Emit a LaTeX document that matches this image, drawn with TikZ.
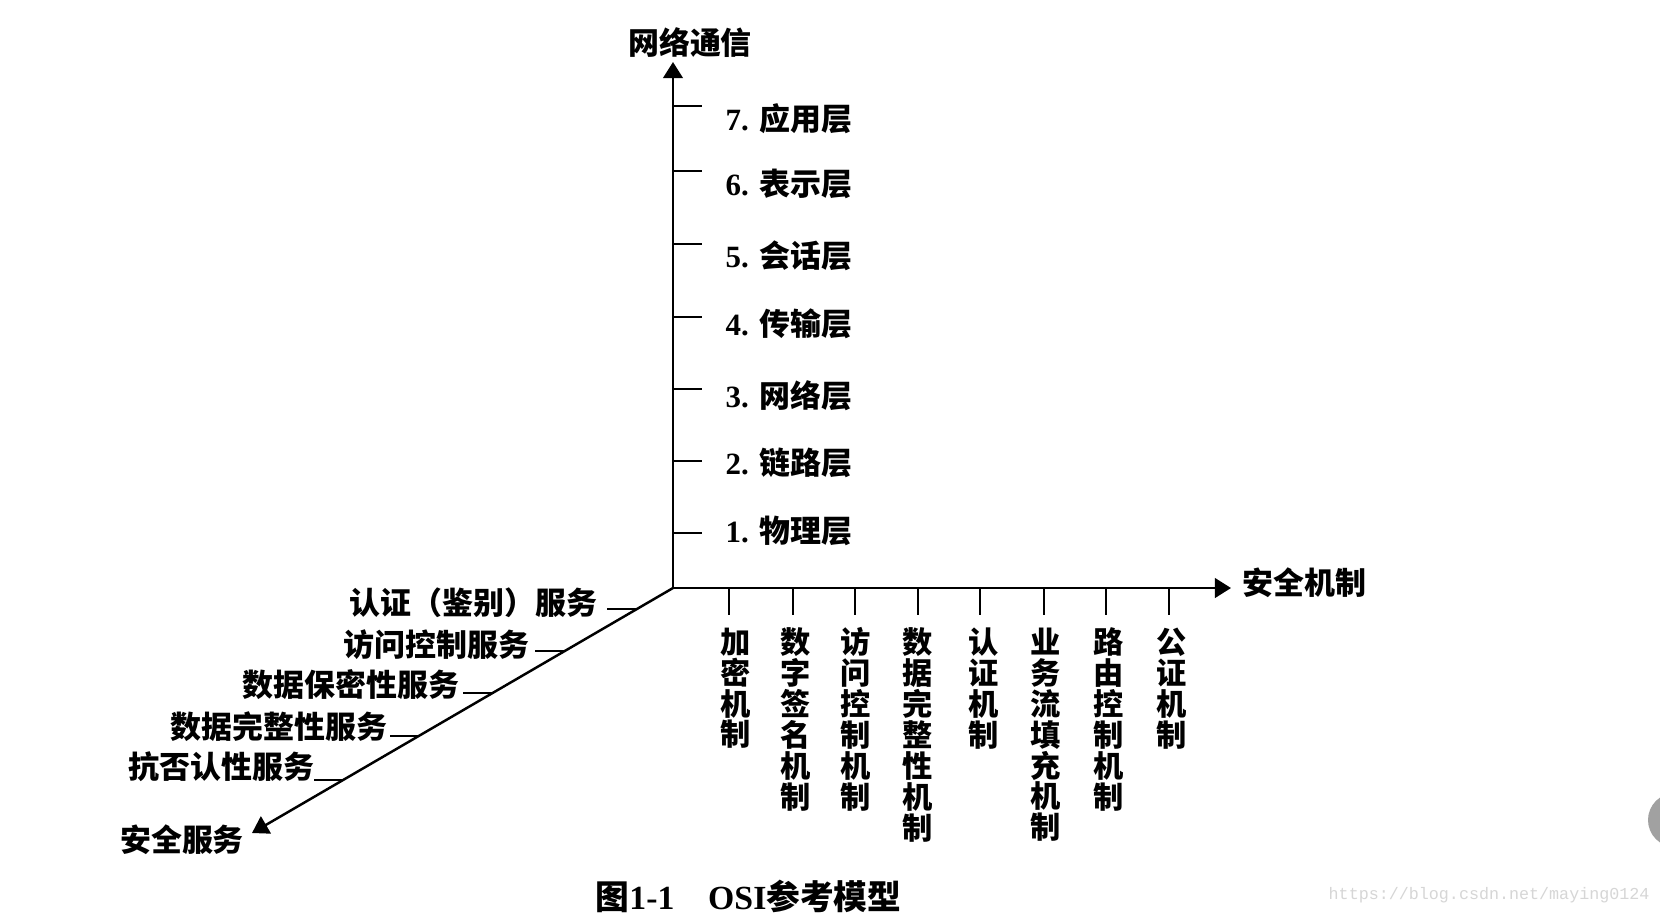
\documentclass[tikz,border=0pt]{standalone}
\usepackage{fontspec}
\usepackage{tikz}
\usetikzlibrary{arrows.meta}
\newfontfamily\cjk{Noto Sans CJK SC}
\newfontfamily\capserif{Liberation Serif}
\newfontfamily\webmono{Liberation Mono}

\begin{document}
\begin{tikzpicture}[x=0.01cm,y=-0.01cm,
  axis/.style={line width=0.7pt,-{Triangle[length=4.6pt,width=5.6pt]}},
  tick/.style={line width=0.6pt},
  axlabel/.style={inner sep=0pt,font=\cjk\bfseries\fontsize{8.8}{10}\selectfont},
  layer/.style={anchor=west,inner sep=0pt,font=\capserif\bfseries\fontsize{8.8}{10}\selectfont},
  mech/.style={anchor=north,inner sep=0pt,align=center,font=\cjk\bfseries\fontsize{8.6}{8.8}\selectfont},
  serv/.style={anchor=east,inner sep=0pt,font=\cjk\bfseries\fontsize{8.8}{10}\selectfont}]
  \useasboundingbox[fill=white] (0,0) rectangle (1660,917);
  % axes
  \coordinate (O) at (673,588);
  \coordinate (netend) at (673,62);
  \coordinate (mechend) at (1231,588);
  \coordinate (servend) at (252,833);
  \draw[axis] (O) -- (netend);
  \draw[axis] (O) -- (mechend);
  \draw[axis] (O) -- (servend);
  \node[axlabel] (net) at (690,43) {网络通信};
  \node[axlabel,anchor=west] (mech) at (1242,583) {安全机制};
  \node[axlabel] (serv) at (182,840) {安全服务};
  % OSI layers
  \draw[tick] (673,106) -- (702,106);
  \draw[tick] (673,171) -- (702,171);
  \draw[tick] (673,244) -- (702,244);
  \draw[tick] (673,317) -- (702,317);
  \draw[tick] (673,389) -- (702,389);
  \draw[tick] (673,461) -- (702,461);
  \draw[tick] (673,533) -- (702,533);
  \node[layer] (l7) at (725,119) {7. \cjk 应用层};
  \node[layer] (l6) at (725,184) {6. \cjk 表示层};
  \node[layer] (l5) at (725,256) {5. \cjk 会话层};
  \node[layer] (l4) at (725,324) {4. \cjk 传输层};
  \node[layer] (l3) at (725,396) {3. \cjk 网络层};
  \node[layer] (l2) at (725,463) {2. \cjk 链路层};
  \node[layer] (l1) at (725,531) {1. \cjk 物理层};
  % security mechanisms
  \draw[tick] (729,588) -- (729,615);
  \draw[tick] (793,588) -- (793,615);
  \draw[tick] (855,588) -- (855,615);
  \draw[tick] (918,588) -- (918,615);
  \draw[tick] (980,588) -- (980,615);
  \draw[tick] (1044,588) -- (1044,615);
  \draw[tick] (1106,588) -- (1106,615);
  \draw[tick] (1169,588) -- (1169,615);
  \node[mech] (m1) at (736,627) {加\\密\\机\\制};
  \node[mech] (m2) at (796,627) {数\\字\\签\\名\\机\\制};
  \node[mech] (m3) at (856,627) {访\\问\\控\\制\\机\\制};
  \node[mech] (m4) at (918,627) {数\\据\\完\\整\\性\\机\\制};
  \node[mech] (m5) at (984,627) {认\\证\\机\\制};
  \node[mech] (m6) at (1046,627) {业\\务\\流\\填\\充\\机\\制};
  \node[mech] (m7) at (1109,627) {路\\由\\控\\制\\机\\制};
  \node[mech] (m8) at (1172,627) {公\\证\\机\\制};
  % security services
  \draw[tick] (637,609) -- (607,609);
  \draw[tick] (565,651) -- (535,651);
  \draw[tick] (493,693) -- (463,693);
  \draw[tick] (419,736) -- (390,736);
  \draw[tick] (343,780) -- (314,780);
  \node[serv] (s1) at (598,603) {认证（鉴别）服务};
  \node[serv] (s2) at (530,645) {访问控制服务};
  \node[serv] (s3) at (460,685) {数据保密性服务};
  \node[serv] (s4) at (388,727) {数据完整性服务};
  \node[serv] (s5) at (315,767) {抗否认性服务};
  % caption and page marks
  \node[inner sep=0pt,anchor=west,font=\bfseries\fontsize{9.6}{11}\selectfont] (cap) at (595,896)
    {\cjk 图\capserif 1-1\quad OSI\cjk 参考模型};
  \node[inner sep=0pt,anchor=west,text=black!16,font=\webmono\fontsize{4.75}{6}\selectfont] (url) at (1328,895)
    {https://blog.csdn.net/maying0124};
  \fill[black!37] (1675,820) circle (27);
\end{tikzpicture}
\end{document}
